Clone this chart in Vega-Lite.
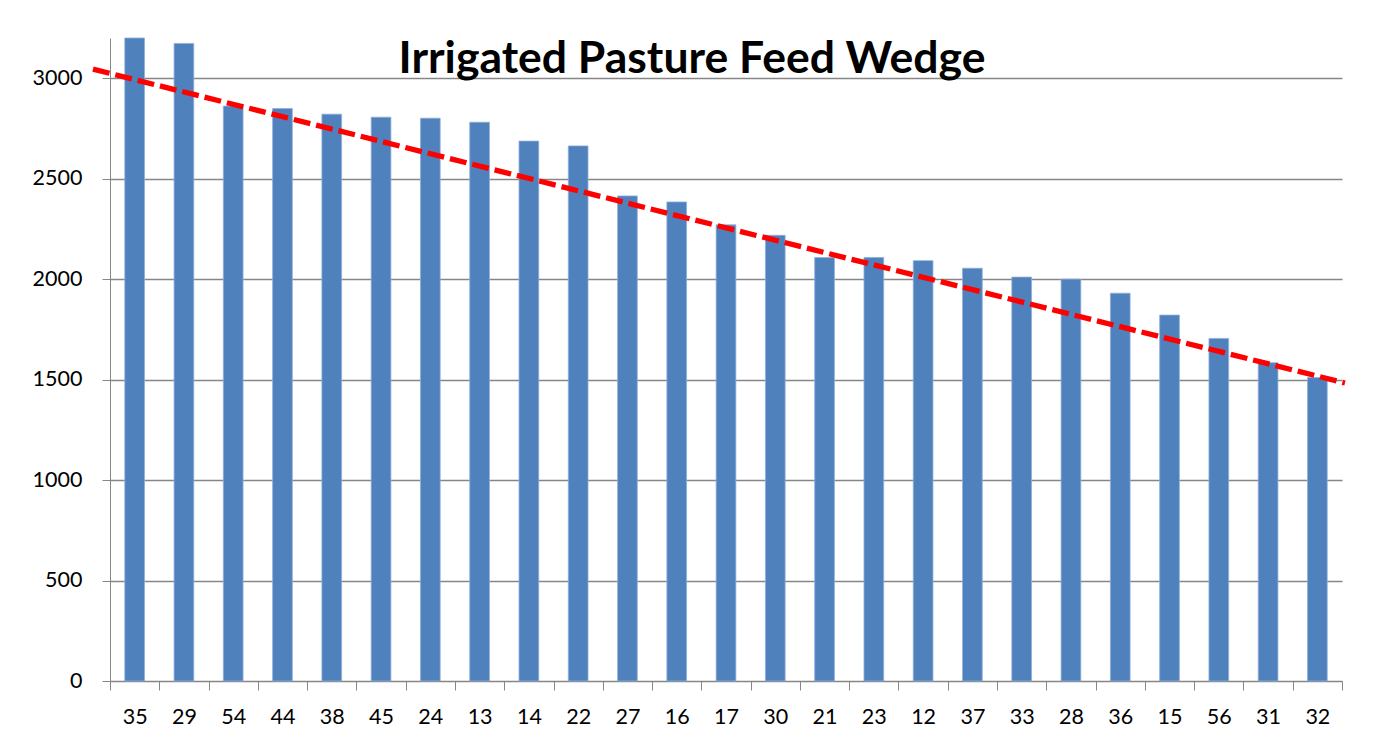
{
  "$schema": "https://vega.github.io/schema/vega-lite/v6.json",
  "autosize": {"type": "none"},
  "width": 1232,
  "height": 643,
  "padding": {"left": 110, "top": 38, "right": 41, "bottom": 68},
  "background": "white",
  "config": {
    "font": "Lato",
    "view": {"stroke": null},
    "axis": {"labelFont": "Lato", "labelFontSize": 21.5, "labelColor": "#000000", "domainColor": "#868686", "tickColor": "#868686", "gridColor": "#868686", "title": null}
  },
  "data": {
    "values": [
      {"paddock": "35", "feed": 3200},
      {"paddock": "29", "feed": 3173},
      {"paddock": "54", "feed": 2861},
      {"paddock": "44", "feed": 2849},
      {"paddock": "38", "feed": 2821},
      {"paddock": "45", "feed": 2806},
      {"paddock": "24", "feed": 2801},
      {"paddock": "13", "feed": 2781},
      {"paddock": "14", "feed": 2687},
      {"paddock": "22", "feed": 2663},
      {"paddock": "27", "feed": 2414},
      {"paddock": "16", "feed": 2384},
      {"paddock": "17", "feed": 2270},
      {"paddock": "30", "feed": 2218},
      {"paddock": "21", "feed": 2107},
      {"paddock": "23", "feed": 2108},
      {"paddock": "12", "feed": 2092},
      {"paddock": "37", "feed": 2054},
      {"paddock": "33", "feed": 2010},
      {"paddock": "28", "feed": 2000},
      {"paddock": "36", "feed": 1930},
      {"paddock": "15", "feed": 1821},
      {"paddock": "56", "feed": 1705},
      {"paddock": "31", "feed": 1584},
      {"paddock": "32", "feed": 1510}
    ]
  },
  "layer": [
    {
      "mark": {"type": "bar", "color": "#4F81BD", "stroke": "#8FAEDA", "strokeWidth": 0.8, "width": {"band": 0.4}},
      "encoding": {
        "x": {
          "field": "paddock", "type": "nominal", "sort": null,
          "scale": {"paddingInner": 0, "paddingOuter": 0},
          "axis": {"labelAngle": 0, "tickBand": "extent", "tickSize": 9, "labelPadding": 16, "grid": false, "domainColor": "#868686"}
        },
        "y": {
          "field": "feed", "type": "quantitative",
          "scale": {"domain": [0, 3200], "nice": false},
          "axis": {"values": [0, 500, 1000, 1500, 2000, 2500, 3000], "format": "d", "tickSize": 8, "labelPadding": 20, "grid": true, "gridWidth": 1.3}
        }
      }
    },
    {
      "data": {"values": [{"pos": -0.345, "trend": 3045}, {"pos": 25.06, "trend": 1483}]},
      "mark": {"type": "line", "color": "#FF0000", "strokeWidth": 5.3, "strokeDash": [17, 6]},
      "encoding": {
        "x": {"field": "pos", "type": "quantitative", "scale": {"domain": [0, 25], "nice": false, "zero": false}, "axis": null},
        "y": {"field": "trend", "type": "quantitative", "scale": {"domain": [0, 3200], "nice": false}}
      }
    },
    {
      "data": {"values": [{"label": "Irrigated Pasture Feed Wedge", "pos": 11.81, "val": 3026}]},
      "mark": {"type": "text", "font": "Lato", "fontSize": 44.5, "fontWeight": "bold", "color": "#000000", "align": "center", "baseline": "alphabetic"},
      "encoding": {
        "x": {"field": "pos", "type": "quantitative", "scale": {"domain": [0, 25], "nice": false, "zero": false}, "axis": null},
        "y": {"field": "val", "type": "quantitative", "scale": {"domain": [0, 3200], "nice": false}},
        "text": {"field": "label"}
      }
    }
  ],
  "resolve": {"scale": {"x": "independent"}}
}
